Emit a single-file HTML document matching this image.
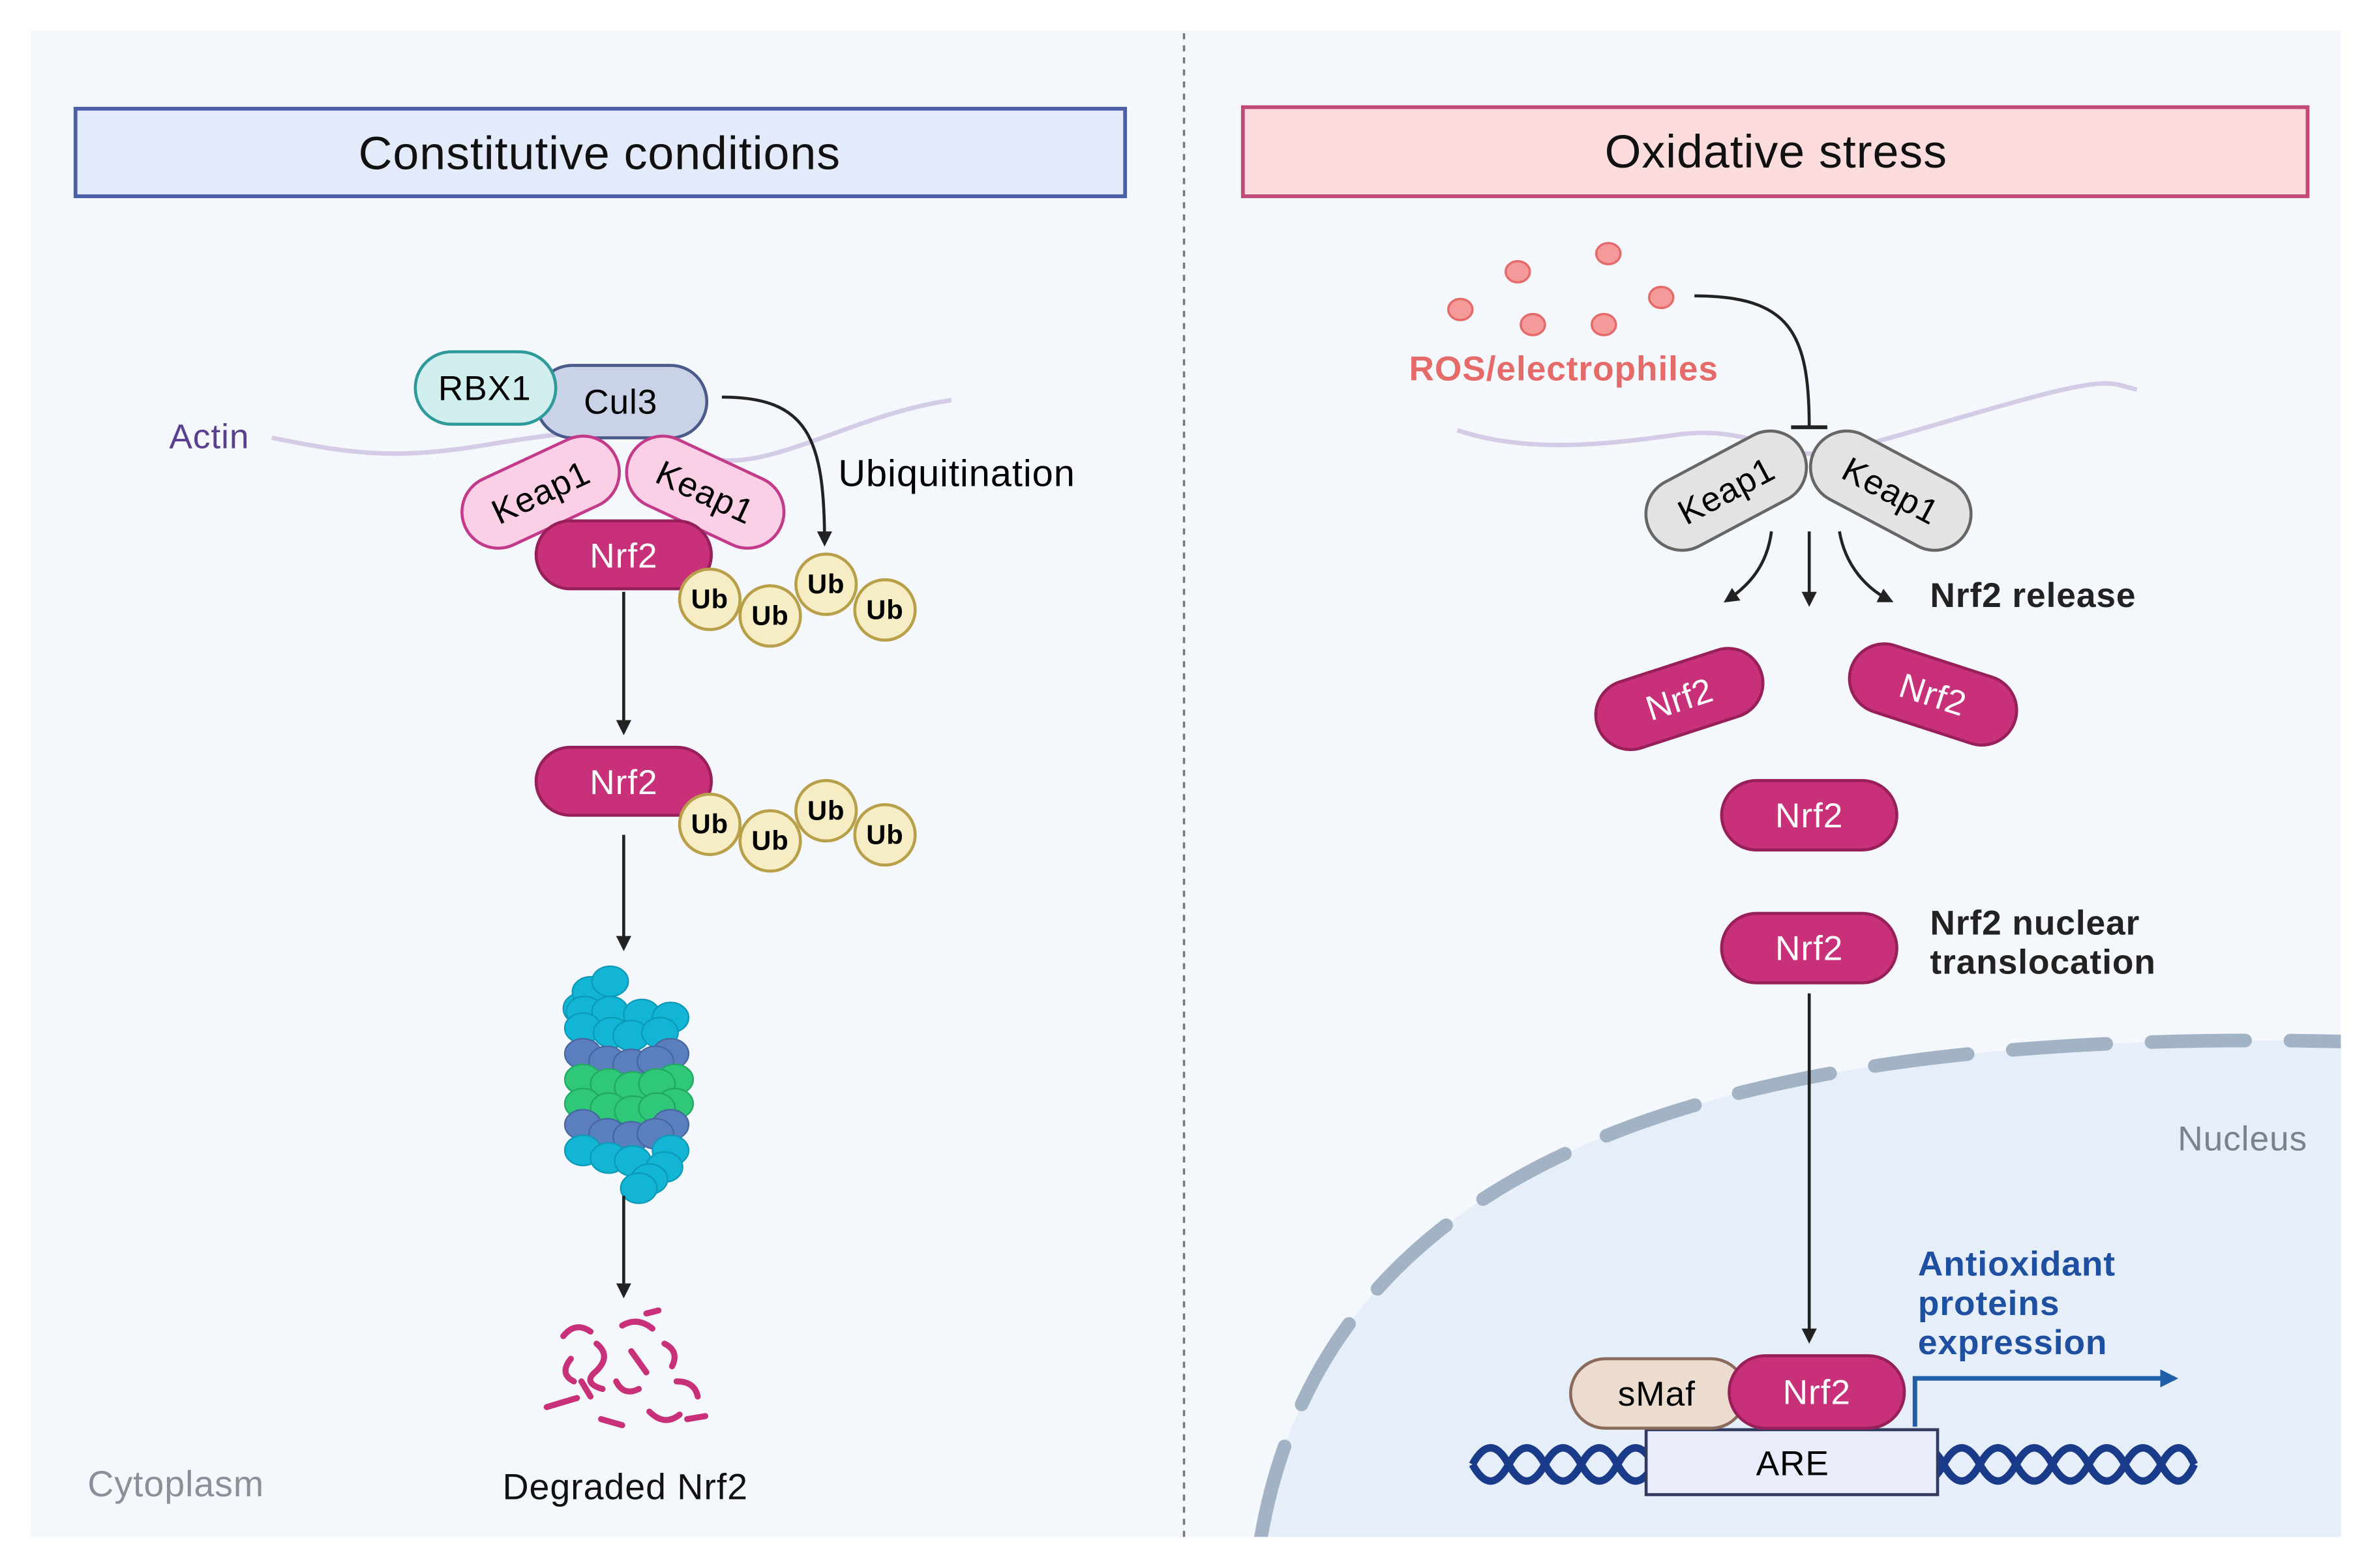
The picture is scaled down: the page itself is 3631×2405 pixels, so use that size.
<!DOCTYPE html>
<html><head><meta charset="utf-8"><style>
html,body{margin:0;padding:0;background:#fff}
svg{display:block}
text{font-family:"Liberation Sans",sans-serif;letter-spacing:0.4px}
</style></head><body>
<svg width="3631" height="2405" viewBox="0 0 1568 1038.6" preserveAspectRatio="none" xmlns="http://www.w3.org/2000/svg">
<defs>
<marker id="ah" viewBox="0 0 10 10" refX="8" refY="5" markerWidth="5" markerHeight="5" orient="auto"><path d="M0,0 L10,5 L0,10 z" fill="#222"/></marker>
<marker id="ahb" viewBox="0 0 10 10" refX="8" refY="5" markerWidth="4" markerHeight="4" orient="auto"><path d="M0,0 L10,5 L0,10 z" fill="#1e5fa8"/></marker>
<clipPath id="rc"><rect x="786" y="20" width="764" height="998"/></clipPath>
</defs>
<rect x="20" y="20" width="1530" height="998" fill="#f4f7fb"/>
<g clip-path="url(#rc)">
<path d="M835,1018 C880,760 1150,680 1560,690 L1560,1030 L835,1030 z" fill="#e5eef9"/>
<path d="M835,1018 C880,760 1150,680 1560,690" fill="none" stroke="#a3b3c6" stroke-width="9" stroke-dasharray="62,30" stroke-linecap="round"/>
</g>
<line x1="784" y1="22" x2="784" y2="1018" stroke="#777" stroke-width="1.5" stroke-dasharray="4,4"/>
<rect x="50" y="72" width="695" height="58" fill="#e3ebfb" stroke="#4a5fa8" stroke-width="2.5"/>
<text x="397" y="112" font-size="31" text-anchor="middle" fill="#111">Constitutive conditions</text>
<rect x="823" y="71" width="705" height="59" fill="#fddcdd" stroke="#c04a78" stroke-width="2.5"/>
<text x="1176" y="111" font-size="31" text-anchor="middle" fill="#111">Oxidative stress</text>

<path d="M180,290 C230,300 260,305 320,295 S420,280 460,300 S560,275 630,265" fill="none" stroke="#d4cce6" stroke-width="3"/>
<text x="112" y="297" font-size="23" fill="#5a3f8f">Actin</text>
<rect x="355" y="242" width="113" height="48" rx="24" fill="#c9d2e6" stroke="#4a5a8a" stroke-width="2"/>
<text x="411" y="274" font-size="23" text-anchor="middle">Cul3</text>
<rect x="275" y="233" width="93" height="48" rx="24" fill="#d2efef" stroke="#2f9a9a" stroke-width="2"/>
<text x="321" y="265" font-size="23" text-anchor="middle">RBX1</text>
<g transform="translate(358,326) rotate(-25)"><rect x="-55" y="-24" width="110" height="48" rx="24" fill="#fbd0e6" stroke="#c43a8a" stroke-width="2"/><text y="8" font-size="23" text-anchor="middle">Keap1</text></g>
<g transform="translate(467,326) rotate(25)"><rect x="-55" y="-24" width="110" height="48" rx="24" fill="#fbd0e6" stroke="#c43a8a" stroke-width="2"/><text y="8" font-size="23" text-anchor="middle">Keap1</text></g>
<rect x="355" y="345" width="116" height="45" rx="22.5" fill="#c8307a" stroke="#98205a" stroke-width="2"/>
<text x="413" y="376" font-size="23" text-anchor="middle" fill="#fff">Nrf2</text>
<g font-size="18" font-weight="bold" text-anchor="middle">
<circle cx="470" cy="397" r="20" fill="#f6edc4" stroke="#b8a04a" stroke-width="2"/><text x="470" y="403">Ub</text>
<circle cx="510" cy="408" r="20" fill="#f6edc4" stroke="#b8a04a" stroke-width="2"/><text x="510" y="414">Ub</text>
<circle cx="547" cy="387" r="20" fill="#f6edc4" stroke="#b8a04a" stroke-width="2"/><text x="547" y="393">Ub</text>
<circle cx="586" cy="404" r="20" fill="#f6edc4" stroke="#b8a04a" stroke-width="2"/><text x="586" y="410">Ub</text>
</g>
<path d="M478,263 C535,263 546,290 546,360" fill="none" stroke="#222" stroke-width="2" marker-end="url(#ah)"/>
<text x="555" y="322" font-size="25">Ubiquitination</text>
<line x1="413" y1="392" x2="413" y2="485" stroke="#222" stroke-width="2" marker-end="url(#ah)"/>
<rect x="355" y="495" width="116" height="45" rx="22.5" fill="#c8307a" stroke="#98205a" stroke-width="2"/>
<text x="413" y="526" font-size="23" text-anchor="middle" fill="#fff">Nrf2</text>
<g font-size="18" font-weight="bold" text-anchor="middle">
<circle cx="470" cy="546" r="20" fill="#f6edc4" stroke="#b8a04a" stroke-width="2"/><text x="470" y="552">Ub</text>
<circle cx="510" cy="557" r="20" fill="#f6edc4" stroke="#b8a04a" stroke-width="2"/><text x="510" y="563">Ub</text>
<circle cx="547" cy="537" r="20" fill="#f6edc4" stroke="#b8a04a" stroke-width="2"/><text x="547" y="543">Ub</text>
<circle cx="586" cy="553" r="20" fill="#f6edc4" stroke="#b8a04a" stroke-width="2"/><text x="586" y="559">Ub</text>
</g>
<line x1="413" y1="553" x2="413" y2="628" stroke="#222" stroke-width="2" marker-end="url(#ah)"/>
<g stroke-width="1">
<g fill="#13b5d4" stroke="#0c9ab8"><ellipse cx="384" cy="668" rx="11" ry="10"/><ellipse cx="391" cy="657" rx="12" ry="10"/><ellipse cx="404" cy="650" rx="12" ry="10"/></g>
<g fill="#13b5d4" stroke="#0c9ab8"><ellipse cx="387" cy="670" rx="12" ry="10"/><ellipse cx="404" cy="670" rx="12" ry="10"/><ellipse cx="425" cy="672" rx="12" ry="10"/><ellipse cx="444" cy="674" rx="12" ry="10"/><ellipse cx="386" cy="681" rx="12" ry="10"/><ellipse cx="405" cy="684" rx="12" ry="10"/><ellipse cx="418" cy="686" rx="12" ry="10"/><ellipse cx="437" cy="684" rx="12" ry="10"/></g>
<g fill="#5b7fbe" stroke="#46679f"><ellipse cx="386" cy="698" rx="12" ry="10"/><ellipse cx="444" cy="698" rx="12" ry="10"/><ellipse cx="402" cy="703" rx="12" ry="10"/><ellipse cx="418" cy="705" rx="12" ry="10"/><ellipse cx="434" cy="703" rx="12" ry="10"/></g>
<g fill="#2ec878" stroke="#22a862"><ellipse cx="386" cy="715" rx="12" ry="10"/><ellipse cx="447" cy="715" rx="12" ry="10"/><ellipse cx="403" cy="718" rx="12" ry="10"/><ellipse cx="419" cy="720" rx="12" ry="10"/><ellipse cx="435" cy="718" rx="12" ry="10"/>
<ellipse cx="386" cy="731" rx="12" ry="10"/><ellipse cx="447" cy="731" rx="12" ry="10"/><ellipse cx="403" cy="734" rx="12" ry="10"/><ellipse cx="419" cy="736" rx="12" ry="10"/><ellipse cx="435" cy="734" rx="12" ry="10"/></g>
<g fill="#5b7fbe" stroke="#46679f"><ellipse cx="386" cy="745" rx="12" ry="10"/><ellipse cx="444" cy="745" rx="12" ry="10"/><ellipse cx="402" cy="751" rx="12" ry="10"/><ellipse cx="418" cy="753" rx="12" ry="10"/><ellipse cx="434" cy="751" rx="12" ry="10"/></g>
<g fill="#13b5d4" stroke="#0c9ab8"><ellipse cx="386" cy="762" rx="12" ry="10"/><ellipse cx="403" cy="767" rx="12" ry="10"/><ellipse cx="419" cy="769" rx="12" ry="10"/><ellipse cx="444" cy="762" rx="12" ry="10"/><ellipse cx="440" cy="773" rx="12" ry="10"/><ellipse cx="430" cy="781" rx="12" ry="10"/><ellipse cx="423" cy="787" rx="12" ry="10"/></g>
</g>
<line x1="413" y1="792" x2="413" y2="858" stroke="#222" stroke-width="2" marker-end="url(#ah)"/>
<g fill="none" stroke="#c8307a" stroke-width="4" stroke-linecap="round">
<path d="M373,885 q8,-10 18,-3"/><path d="M378,900 q-8,10 2,15"/><path d="M362,932 l20,-6"/><path d="M395,890 q10,8 0,18 q-10,8 4,12"/>
<path d="M412,878 q10,-6 20,2"/><path d="M418,895 l10,14"/><path d="M408,915 q5,10 15,5"/><path d="M440,890 q10,5 5,15"/>
<path d="M448,915 q12,0 14,10"/><path d="M430,935 q10,10 20,2"/><path d="M398,940 l14,4"/><path d="M455,940 l12,-2"/><path d="M385,915 l6,10"/><path d="M428,870 l8,-2"/>
</g>
<text x="414" y="993" font-size="24" text-anchor="middle" fill="#111">Degraded Nrf2</text>
<text x="58" y="991" font-size="24" fill="#8a9098">Cytoplasm</text>

<path d="M965,285 C1010,300 1060,295 1110,288 S1180,305 1210,300 S1300,275 1350,262 S1400,255 1415,258" fill="none" stroke="#d4cce6" stroke-width="3"/>
<g fill="#f49a9a" stroke="#e56a6a" stroke-width="1.5">
<ellipse cx="1005" cy="180" rx="8" ry="7"/><ellipse cx="1065" cy="168" rx="8" ry="7"/><ellipse cx="967" cy="205" rx="8" ry="7"/><ellipse cx="1015" cy="215" rx="8" ry="7"/><ellipse cx="1062" cy="215" rx="8" ry="7"/><ellipse cx="1100" cy="197" rx="8" ry="7"/>
</g>
<text x="933" y="252" font-size="23" font-weight="bold" fill="#e56b6b">ROS/electrophiles</text>
<path d="M1122,196 C1185,196 1198,220 1198,283" fill="none" stroke="#222" stroke-width="2"/>
<line x1="1186" y1="283" x2="1210" y2="283" stroke="#222" stroke-width="2.5"/>
<g transform="translate(1143,325) rotate(-28)"><rect x="-57" y="-24" width="114" height="48" rx="24" fill="#e3e3e3" stroke="#666" stroke-width="2"/><text y="8" font-size="23" text-anchor="middle">Keap1</text></g>
<g transform="translate(1252,325) rotate(28)"><rect x="-57" y="-24" width="114" height="48" rx="24" fill="#e3e3e3" stroke="#666" stroke-width="2"/><text y="8" font-size="23" text-anchor="middle">Keap1</text></g>
<path d="M1173,352 C1170,375 1158,388 1143,398" fill="none" stroke="#222" stroke-width="2" marker-end="url(#ah)"/>
<line x1="1198" y1="352" x2="1198" y2="400" stroke="#222" stroke-width="2" marker-end="url(#ah)"/>
<path d="M1218,352 C1222,375 1236,390 1252,398" fill="none" stroke="#222" stroke-width="2" marker-end="url(#ah)"/>
<text x="1278" y="402" font-size="23" font-weight="bold" fill="#222">Nrf2 release</text>
<g transform="translate(1112,463) rotate(-18)"><rect x="-57" y="-23" width="114" height="46" rx="23" fill="#c8307a" stroke="#98205a" stroke-width="2"/><text y="8" font-size="23" text-anchor="middle" fill="#fff">Nrf2</text></g>
<g transform="translate(1280,460) rotate(18)"><rect x="-57" y="-23" width="114" height="46" rx="23" fill="#c8307a" stroke="#98205a" stroke-width="2"/><text y="8" font-size="23" text-anchor="middle" fill="#fff">Nrf2</text></g>
<rect x="1140" y="517" width="116" height="46" rx="23" fill="#c8307a" stroke="#98205a" stroke-width="2"/>
<text x="1198" y="548" font-size="23" text-anchor="middle" fill="#fff">Nrf2</text>
<rect x="1140" y="605" width="116" height="46" rx="23" fill="#c8307a" stroke="#98205a" stroke-width="2"/>
<text x="1198" y="636" font-size="23" text-anchor="middle" fill="#fff">Nrf2</text>
<text x="1278" y="619" font-size="23" font-weight="bold" fill="#222">Nrf2 nuclear</text>
<text x="1278" y="645" font-size="23" font-weight="bold" fill="#222">translocation</text>
<line x1="1198" y1="658" x2="1198" y2="888" stroke="#222" stroke-width="2" marker-end="url(#ah)"/>
<text x="1442" y="762" font-size="23" fill="#7a8290">Nucleus</text>
<g fill="none" stroke="#1a3a8a" stroke-width="5">
<path d="M975,970 q12,-22 24,0 t24,0 t24,0 t24,0 t24,0 t24,0 t24,0 t24,0 t24,0 t24,0 t24,0 t24,0 t24,0 t24,0 t24,0 t24,0 t24,0 t24,0 t24,0 t22,0"/>
<path d="M975,970 q12,22 24,0 t24,0 t24,0 t24,0 t24,0 t24,0 t24,0 t24,0 t24,0 t24,0 t24,0 t24,0 t24,0 t24,0 t24,0 t24,0 t24,0 t24,0 t24,0 t22,0"/>
</g>
<rect x="1090" y="947" width="193" height="43" fill="#e8ecfb" stroke="#333a60" stroke-width="2"/>
<text x="1187" y="977" font-size="23" text-anchor="middle">ARE</text>
<rect x="1040" y="900" width="116" height="46" rx="23" fill="#ecdcd0" stroke="#8a6a5a" stroke-width="2"/>
<text x="1097" y="931" font-size="23" text-anchor="middle">sMaf</text>
<rect x="1145" y="898" width="116" height="48" rx="24" fill="#c8307a" stroke="#98205a" stroke-width="2"/>
<text x="1203" y="930" font-size="23" text-anchor="middle" fill="#fff">Nrf2</text>
<path d="M1268,945 L1268,913 L1440,913" fill="none" stroke="#1e5fa8" stroke-width="3" marker-end="url(#ahb)"/>
<g font-size="23" font-weight="bold" fill="#1e4fa0">
<text x="1270" y="845">Antioxidant</text><text x="1270" y="871">proteins</text><text x="1270" y="897">expression</text>
</g>
</svg>
</body></html>
